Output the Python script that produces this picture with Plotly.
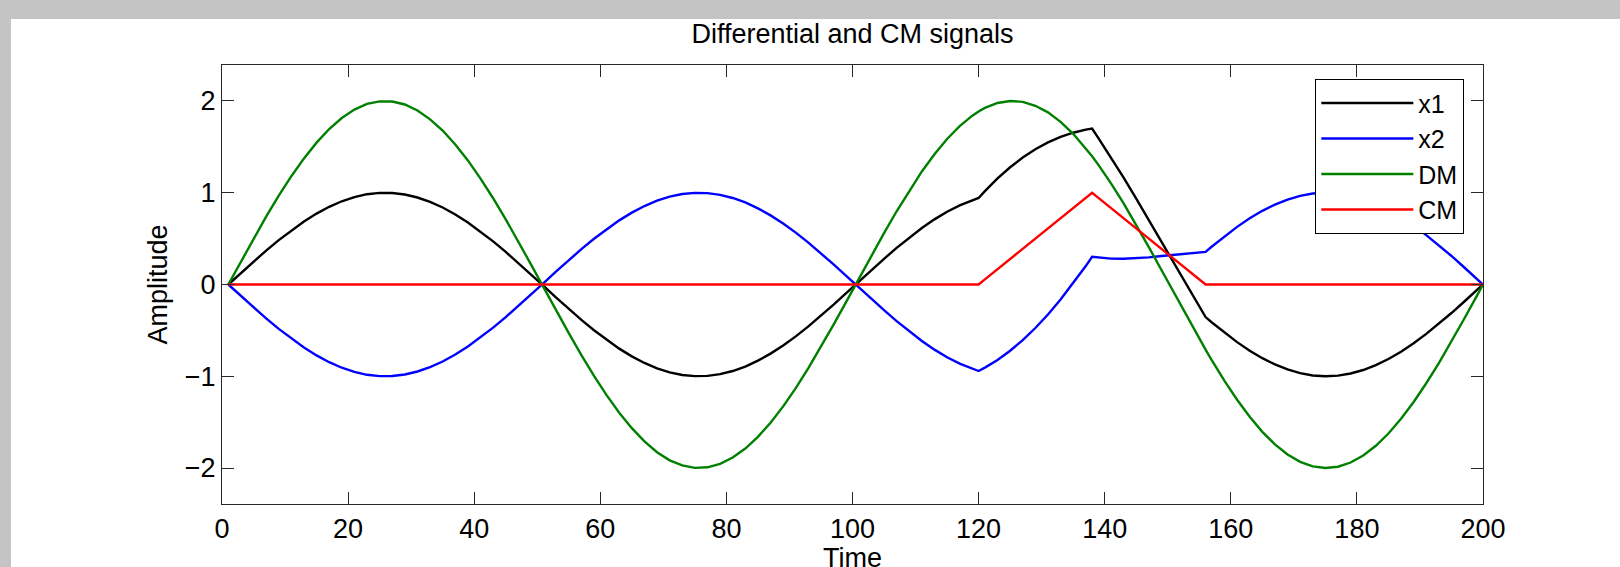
import plotly.graph_objects as go

# Time samples
t = [1, 3, 5, 7, 9, 11, 13, 15, 17, 19, 21, 23, 25, 27, 29, 31, 33, 35, 37, 39, 41, 43, 45, 47, 49,
     51, 53, 55, 57, 59, 61, 63, 65, 67, 69, 71, 73, 75, 77, 79, 81, 83, 85, 87, 89, 91, 93, 95, 97, 99,
     101, 103, 105, 107, 109, 111, 113, 115, 117, 119,
     120, 121, 123, 125, 127, 129, 131, 133, 135, 137, 138, 139, 141, 143, 145, 147, 149, 151, 153, 155,
     156, 157, 159, 161, 163, 165, 167, 169, 171, 173, 175, 177, 179, 181, 183, 185, 187, 189, 191, 193, 195, 197, 199, 200]

x1 = [0, 0.126, 0.250, 0.370, 0.484, 0.590, 0.687, 0.773, 0.847, 0.907, 0.953, 0.984, 0.998, 0.997, 0.981, 0.948, 0.900, 0.839, 0.763, 0.676, 0.577, 0.470, 0.355, 0.235, 0.110,
      -0.016, -0.142, -0.265, -0.385, -0.498, -0.603, -0.699, -0.783, -0.855, -0.914, -0.958, -0.986, -0.999, -0.996, -0.977, -0.943, -0.894, -0.830, -0.753, -0.664, -0.565, -0.456, -0.340, -0.219, -0.095,
      0.032, 0.157, 0.280, 0.399, 0.511, 0.616, 0.710, 0.793, 0.863, 0.920,
      0.943, 1.018, 1.156, 1.278, 1.384, 1.474, 1.549, 1.608, 1.654, 1.687, 1.699, 1.596, 1.384, 1.164, 0.936, 0.704, 0.468, 0.231, -0.006, -0.240,
      -0.355, -0.414, -0.525, -0.628, -0.721, -0.803, -0.871, -0.926, -0.966, -0.991, -1.000, -0.993, -0.970, -0.932, -0.879, -0.812, -0.732, -0.640, -0.538, -0.428, -0.311, -0.188, -0.063, 0]

x2 = [0, -0.126, -0.250, -0.370, -0.484, -0.590, -0.687, -0.773, -0.847, -0.907, -0.953, -0.984, -0.998, -0.997, -0.981, -0.948, -0.900, -0.839, -0.763, -0.676, -0.577, -0.470, -0.355, -0.235, -0.110,
      0.016, 0.142, 0.265, 0.385, 0.498, 0.603, 0.699, 0.783, 0.855, 0.914, 0.958, 0.986, 0.999, 0.996, 0.977, 0.943, 0.894, 0.830, 0.753, 0.664, 0.565, 0.456, 0.340, 0.219, 0.095,
      -0.032, -0.157, -0.280, -0.399, -0.511, -0.616, -0.710, -0.793, -0.863, -0.920,
      -0.943, -0.906, -0.822, -0.722, -0.606, -0.474, -0.327, -0.164, 0.012, 0.201, 0.301, 0.292, 0.282, 0.280, 0.286, 0.296, 0.310, 0.325, 0.340, 0.352,
      0.355, 0.414, 0.525, 0.628, 0.721, 0.803, 0.871, 0.926, 0.966, 0.991, 1.000, 0.993, 0.970, 0.932, 0.879, 0.812, 0.732, 0.640, 0.538, 0.428, 0.311, 0.188, 0.063, 0]

dm = [0, 0.252, 0.500, 0.740, 0.968, 1.180, 1.374, 1.546, 1.694, 1.814, 1.906, 1.968, 1.996, 1.994, 1.962, 1.896, 1.800, 1.678, 1.526, 1.352, 1.154, 0.940, 0.710, 0.470, 0.220,
      -0.032, -0.284, -0.530, -0.770, -0.996, -1.206, -1.398, -1.566, -1.710, -1.828, -1.916, -1.972, -1.998, -1.992, -1.954, -1.886, -1.788, -1.660, -1.506, -1.328, -1.130, -0.912, -0.680, -0.438, -0.190,
      0.064, 0.314, 0.560, 0.798, 1.022, 1.232, 1.420, 1.586, 1.726, 1.840,
      1.886, 1.924, 1.978, 2.000, 1.990, 1.948, 1.876, 1.772, 1.642, 1.486, 1.398, 1.304, 1.102, 0.884, 0.650, 0.408, 0.158, -0.094, -0.346, -0.592,
      -0.710, -0.828, -1.050, -1.256, -1.442, -1.606, -1.742, -1.852, -1.932, -1.982, -2.000, -1.986, -1.940, -1.864, -1.758, -1.624, -1.464, -1.280, -1.076, -0.856, -0.622, -0.376, -0.126, 0]

cm = [0] * 25 + [0] * 25 + [0] * 10 + \
     [0, 0.056, 0.167, 0.278, 0.389, 0.500, 0.611, 0.722, 0.833, 0.944, 1.000, 0.944, 0.833, 0.722, 0.611, 0.500, 0.389, 0.278, 0.167, 0.056] + \
     [0] * 24

for arr in (x1, x2, dm, cm):
    assert len(arr) == len(t), (len(arr), len(t))

series = [("x1", x1, "#000000"), ("x2", x2, "#0000ff"), ("DM", dm, "#008000"), ("CM", cm, "#ff0000")]

FONT = "Liberation Sans, Arial, Helvetica, sans-serif"
FS = 27

fig = go.Figure()
for name, y, c in series:
    fig.add_trace(go.Scatter(x=t, y=y, mode="lines", name=name,
                             line=dict(color=c, width=2.4)))

L, R, T, B = 222, 137, 65, 63
W, H = 1620, 567
pw, ph = W - L - R, H - T - B

# white figure area over the grey window background
fig.add_shape(type="rect", xref="paper", yref="paper",
              x0=(11 - L) / pw, x1=(W + 20 - L) / pw,
              y0=(H - T - (H + 20)) / ph, y1=(H - B - 19) / ph,
              fillcolor="white", line=dict(width=0), layer="below")

# axis titles placed as in the reference
fig.add_annotation(text="Time", xref="paper", yref="paper", x=0.5, y=(H - B - 558) / ph,
                   xanchor="center", yanchor="middle", showarrow=False, font=dict(size=FS))
fig.add_annotation(text="Amplitude", xref="paper", yref="paper", x=(157 - L) / pw, y=0.5,
                   textangle=-90, xanchor="center", yanchor="middle", showarrow=False,
                   font=dict(size=FS))

axis_common = dict(showgrid=False, zeroline=False, showline=True, linecolor="#262626", linewidth=1.3,
                   mirror="ticks", ticks="inside", ticklen=12, tickcolor="#262626", tickwidth=1,
                   tickfont=dict(size=FS), automargin=False)

fig.update_layout(
    width=W, height=H,
    margin=dict(l=L, r=R, t=T, b=B),
    paper_bgcolor="#c3c4c3",
    plot_bgcolor="white",
    font=dict(family=FONT, size=FS, color="#000000"),
    title=dict(text="Differential and CM signals", x=0.5, xref="paper", xanchor="center",
               y=(H - 34) / H, yanchor="middle", font=dict(size=FS), automargin=False),
    showlegend=True,
    legend=dict(x=(1315 - L) / pw, y=(H - B - 79) / ph, xanchor="left", yanchor="top",
                bgcolor="white", bordercolor="#000000", borderwidth=1.3,
                font=dict(size=25), itemwidth=92, tracegroupgap=0),
    xaxis=dict(range=[0, 200], tickvals=[0, 20, 40, 60, 80, 100, 120, 140, 160, 180, 200],
               **axis_common),
    yaxis=dict(range=[-2.392, 2.392], tickvals=[-2, -1, 0, 1, 2], **axis_common),
)

fig.write_html("out.html")
